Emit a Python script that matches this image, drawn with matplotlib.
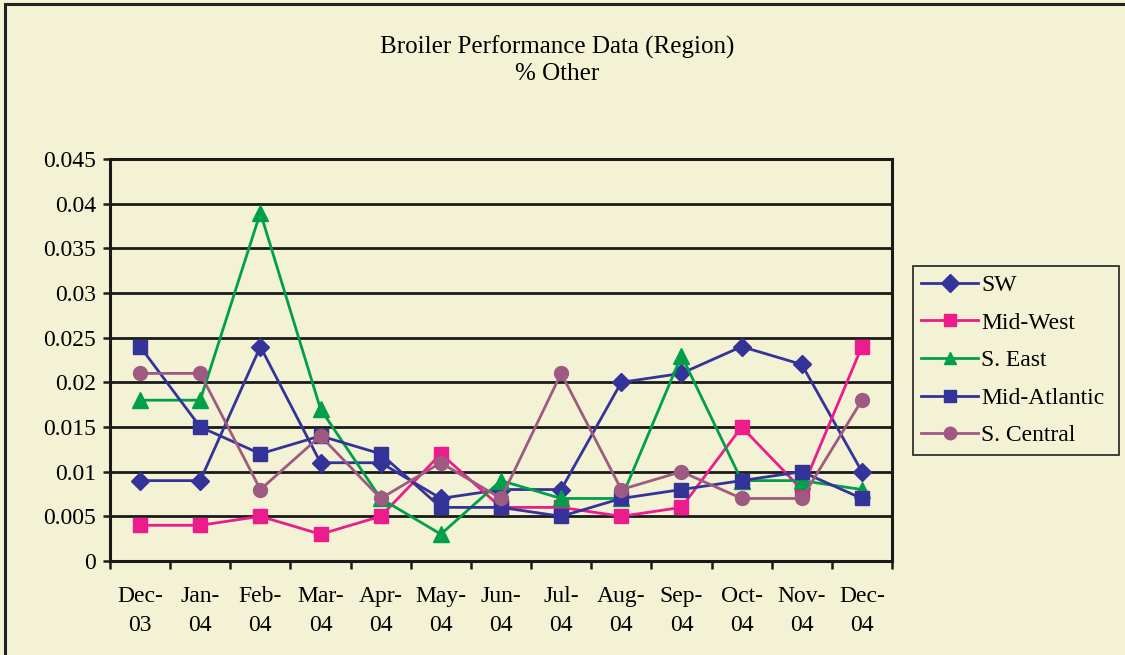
import matplotlib
matplotlib.use("Agg")
import matplotlib.pyplot as plt
from matplotlib.patches import Rectangle
import numpy as np

months = ["Dec-\n03", "Jan-\n04", "Feb-\n04", "Mar-\n04", "Apr-\n04", "May-\n04", "Jun-\n04",
          "Jul-\n04", "Aug-\n04", "Sep-\n04", "Oct-\n04", "Nov-\n04", "Dec-\n04"]
sw = [0.009, 0.009, 0.024, 0.011, 0.011, 0.007, 0.008, 0.008, 0.020, 0.021, 0.024, 0.022, 0.010]
mid_west = [0.004, 0.004, 0.005, 0.003, 0.005, 0.012, 0.006, 0.006, 0.005, 0.006, 0.015, 0.008, 0.024]
s_east = [0.018, 0.018, 0.039, 0.017, 0.007, 0.003, 0.009, 0.007, 0.007, 0.023, 0.009, 0.009, 0.008]
mid_atlantic = [0.024, 0.015, 0.012, 0.014, 0.012, 0.006, 0.006, 0.005, 0.007, 0.008, 0.009, 0.010, 0.007]
s_central = [0.021, 0.021, 0.008, 0.014, 0.007, 0.011, 0.007, 0.021, 0.008, 0.010, 0.007, 0.007, 0.018]
y_ticks = [0, 0.005, 0.01, 0.015, 0.02, 0.025, 0.03, 0.035, 0.04, 0.045]
y_labels = ["0", "0.005", "0.01", "0.015", "0.02", "0.025", "0.03", "0.035", "0.04", "0.045"]

series = [
    ("SW", sw, "#333399", "D", 9),
    ("Mid-West", mid_west, "#EC1C8C", "s", 10),
    ("S. East", s_east, "#00A04A", "^", 11),
    ("Mid-Atlantic", mid_atlantic, "#333399", "s", 10),
    ("S. Central", s_central, "#9E5A80", "o", 10),
]

plt.rcParams['font.family'] = ['Liberation Serif', 'DejaVu Serif']
bg = "#F3F2D4"

fig = plt.figure(figsize=(11.25, 6.55), dpi=100)
fig.patch.set_facecolor(bg)
fig.patches.append(Rectangle((5/1125, -0.01), 1.2, 1 - 4/655 + 0.01, transform=fig.transFigure,
                             fill=False, edgecolor="#222222", linewidth=2.2, zorder=10))

ax = fig.add_axes([110/1125, 1 - 561/655, (892 - 110)/1125, (561 - 159)/655])
ax.set_facecolor(bg)
x = np.arange(len(months))
for name, vals, col, mk, ms in series:
    ax.plot(x, vals, color=col, marker=mk, markersize=ms, linewidth=2.0,
            markeredgecolor=col, label=name, clip_on=False)

ax.set_xlim(-0.5, len(months) - 0.5)
ax.set_ylim(0, 0.045)
ax.set_yticks(y_ticks)
ax.set_yticklabels(y_labels, fontsize=17)
ax.yaxis.grid(True, color="#1a1a1a", linewidth=2.0)
ax.set_axisbelow(True)
ax.set_xticks(np.arange(-0.5, len(months), 1.0))
ax.set_xticklabels([])
ax.set_xticks(x, minor=True)
ax.set_xticklabels(months, minor=True, fontsize=17, linespacing=1.47)
ax.tick_params(axis="x", which="major", length=6, width=1.8, color="#1a1a1a", direction="out")
ax.tick_params(axis="x", which="minor", length=0, pad=18)
ax.tick_params(axis="y", length=5, width=1.8, color="#1a1a1a", direction="out", pad=5)
for s in ax.spines.values():
    s.set_color("#1a1a1a")
    s.set_linewidth(2.2)

fig.text(557/1125, 1 - 60/655, "Broiler Performance Data (Region)\n% Other", ha="center",
         va="center", fontsize=18, linespacing=1.22)

leg = ax.legend(loc="center", bbox_to_anchor=(913/1125, 1 - 453/655, 206/1125, 185/655),
                bbox_transform=fig.transFigure, mode="expand", fontsize=17, frameon=True,
                fancybox=False, edgecolor="#222222", facecolor=bg, framealpha=1,
                handlelength=2.4, labelspacing=0.68, borderpad=0.35, handletextpad=0.15,
                borderaxespad=0, handleheight=0.7)
leg.get_frame().set_linewidth(1.2)
for h in leg.legend_handles:
    h.set_markersize(9)

fig.savefig("out.png", dpi=100, facecolor=bg)
